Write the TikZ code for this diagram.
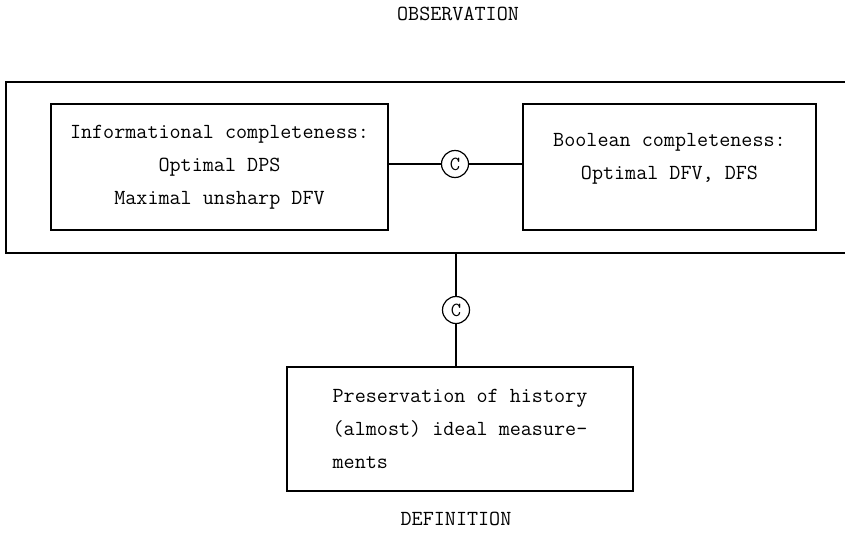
\documentclass[tikz,border=0pt]{standalone}
\usepackage{tikz}
\usetikzlibrary{positioning}
\tikzstyle{diagram} = [x = 1pt, y = -1pt, every node/.style={font=\ttfamily\fontsize{21.5}{33}\selectfont}]
\tikzstyle{frameLine} = [line width=1.5pt]
\tikzstyle{conditionBox} = [draw, line width=1.4pt, align=center, inner sep=0pt]
\tikzstyle{couplingCircle} = [draw, circle, line width=1.2pt, minimum size=27pt, inner sep=0pt, font=\ttfamily\fontsize{20}{20}\selectfont]
\tikzstyle{connector} = [line width=1.3pt]
\newcommand{\coupling}[3]{\node [couplingCircle] (#1) at (#2,#3) {C};}

\begin{document}
\begin{tikzpicture}[diagram]
  \useasboundingbox (0,0) rectangle (845,538);
  \node (observation) at (458,14) {OBSERVATION};

  \draw [frameLine] (852,82) -- (6,82) -- (6,253) -- (852,253);
  \coordinate (frameBottom) at (456,253);

  \node [conditionBox, minimum width=337pt, minimum height=126pt] (informational) at (219.5,167)
    {Informational completeness:\\Optimal DPS\\Maximal unsharp DFV};
  \node [conditionBox, minimum width=293pt, minimum height=126pt, text depth=22pt] (boolean) at (669.5,167)
    {Boolean completeness:\\Optimal DFV, DFS};
  \coupling{upperC}{455}{164}
  \draw [connector] (informational.east |- upperC) -- (upperC) -- (boolean.west |- upperC);

  \coupling{lowerC}{456}{310}
  \node [conditionBox, align=left, minimum width=346pt, minimum height=124pt] (preservation) at (460,429)
    {Preservation of history\\(almost) ideal measure-\\ments};
  \draw [connector] (frameBottom) -- (lowerC) -- (lowerC |- preservation.north);

  \node (definition) at (456,519) {DEFINITION};
\end{tikzpicture}
\end{document}
